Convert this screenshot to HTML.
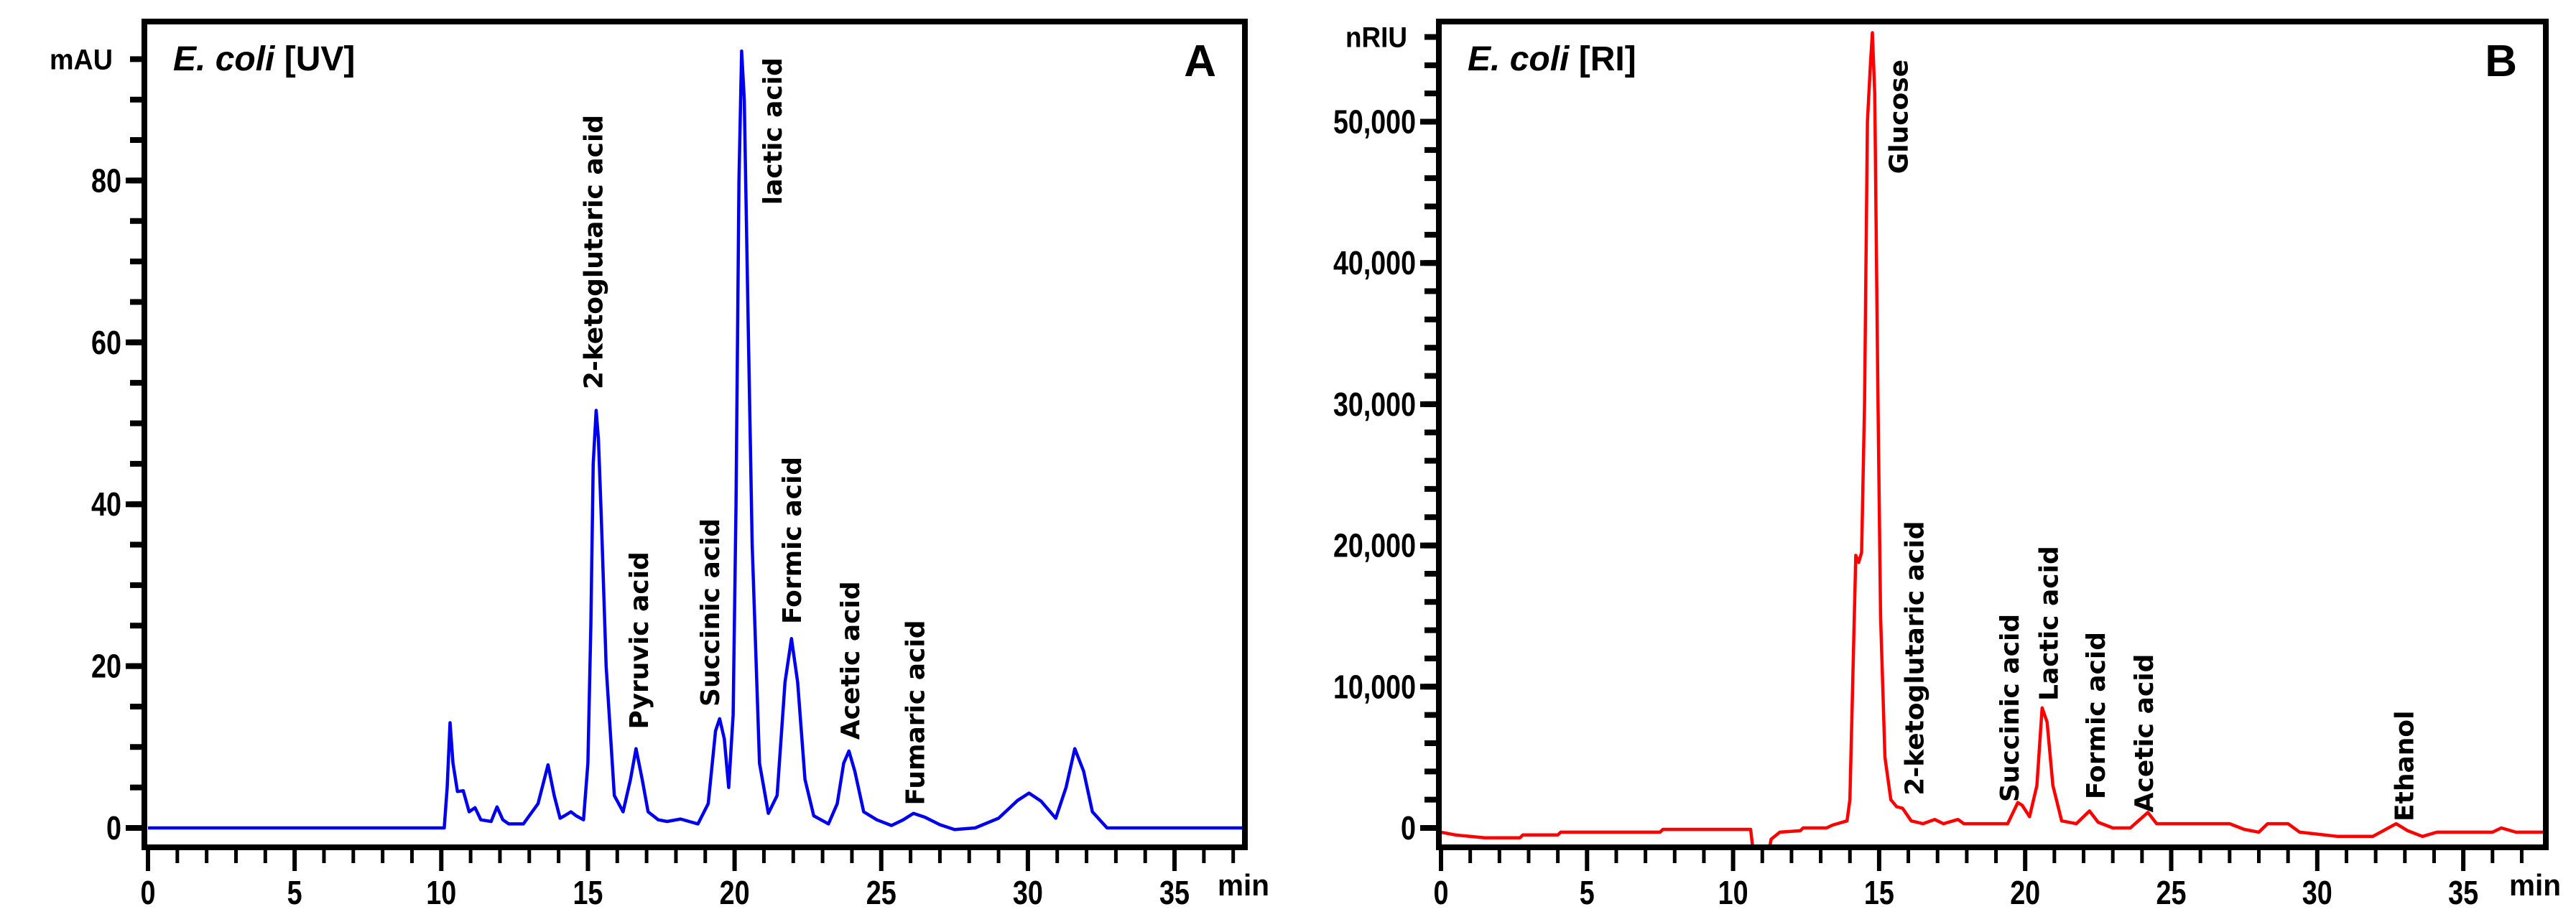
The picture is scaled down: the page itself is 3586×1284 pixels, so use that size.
<!DOCTYPE html>
<html><head><meta charset="utf-8"><style>
html,body{margin:0;padding:0;background:#fff;}
svg{display:block;}
text{font-family:"Liberation Sans","DejaVu Sans",sans-serif;}
.tick{font-weight:bold;font-size:46px;fill:#000;}
.lab{font-family:"DejaVu Sans","Liberation Sans",sans-serif;font-weight:bold;font-size:36px;fill:#000;}
</style></head><body>
<svg id="fig" width="3586" height="1284" viewBox="0 0 3586 1284" xmlns="http://www.w3.org/2000/svg"></svg>
<script>
// ---- Panel A (UV) data ----
const timesA = [0,10.1,10.2,10.3,10.4,10.55,10.75,10.95,11.15,11.35,11.7,11.9,12.1,12.3,12.8,13.3,13.64,13.85,14.05,14.2,14.42,14.6,14.85,15.0,15.1,15.18,15.28,15.36,15.46,15.62,15.9,16.2,16.45,16.64,16.85,17.05,17.4,17.7,18.16,18.45,18.75,19.1,19.35,19.49,19.65,19.8,19.95,20.05,20.15,20.24,20.33,20.45,20.6,20.85,21.15,21.45,21.72,21.94,22.15,22.4,22.7,23.2,23.5,23.72,23.9,24.1,24.4,24.85,25.35,25.75,26.1,26.5,27,27.5,28.2,29.0,29.65,30.04,30.45,30.95,31.3,31.6,31.9,32.2,32.7,38.3];
const valuesA = [0,0,5,13,8,4.5,4.6,2,2.5,1,0.8,2.6,1,0.5,0.5,3,7.8,4,1.2,1.5,2,1.5,1,8,25,45,51.6,48,38,20,4,2,6,9.8,6,2,1,0.8,1.1,0.8,0.5,3,12,13.5,11,5,14,40,80,96,90,65,35,8,1.8,4,18,23.4,18,6,1.5,0.5,3,8,9.5,7,2,1,0.3,1,1.8,1.3,0.4,-0.2,0,1.2,3.4,4.3,3.3,1.2,5,9.8,7,2,0,0];
const yTicksA = [0,20,40,60,80];
const yTickLabelsA = ["0","20","40","60","80"];
const peakNamesA = ["2-ketoglutaric acid","lactic acid","Pyruvic acid","Succinic acid","Formic acid","Acetic acid","Fumaric acid"];
const peakTimesA = [15.17,21.28,16.73,19.15,21.95,23.93,26.15];
const peakLabelBaseA = [54.2,77,12.2,15,25.2,10.9,2.8];
// ---- Panel B (RI) data ----
const timesB = [0,0.5,1.5,2.7,2.8,4,4.1,7.5,7.6,10.6,10.68,10.8,11.2,11.3,11.6,12.3,12.4,13.2,13.4,13.9,14.0,14.2,14.3,14.4,14.5,14.6,14.7,14.77,14.85,14.95,15.05,15.2,15.4,15.6,15.8,16.1,16.5,16.9,17.2,17.7,17.9,19.4,19.75,19.9,20.15,20.4,20.58,20.75,20.95,21.25,21.75,22.2,22.5,23,23.6,24.2,24.5,27,27.5,28,28.3,29,29.4,30.7,31.9,32.7,33.1,33.6,34.1,36,36.3,36.8,38.4];
const valuesB = [-300,-500,-700,-700,-500,-500,-300,-300,-100,-100,-1500,-2000,-2000,-800,-300,-200,0,0,200,500,2000,19300,18800,19500,30000,50000,54000,56300,52000,32000,15000,5000,2000,1500,1400,500,300,600,300,600,300,300,1800,1600,800,3000,8500,7500,3000,500,300,1200,400,0,0,1100,300,300,-100,-300,300,300,-300,-600,-600,300,-200,-600,-300,-300,0,-300,-300];
const yTicksB = [0,10000,20000,30000,40000,50000];
const yTickLabelsB = ["0","10,000","20,000","30,000","40,000","50,000"];
const peakNamesB = ["Glucose","2-ketoglutaric acid","Succinic acid","Lactic acid","Formic acid","Acetic acid","Ethanol"];
const peakTimesB = [15.65,16.2,19.45,20.8,22.4,24.05,32.97];
const peakLabelBaseB = [46300,2300,1830,9000,2030,1100,460];
const xTicks = [0,5,10,15,20,25,30,35];

const NS="http://www.w3.org/2000/svg";
const svg=document.getElementById('fig');
function mk(tag,attrs,parent){const e=document.createElementNS(NS,tag);for(const k in attrs)e.setAttribute(k,attrs[k]);(parent||svg).appendChild(e);return e;}
function tlen(s){let w=0;for(const c of s)w+=(c===','?10:21);return w;}

function panel(cfg){
  const g=mk('g',{});
  
  
  const X=t=>cfg.x0+t*cfg.px;
  const Y=v=>cfg.y0-v*cfg.py;
  const clipId=cfg.name+'-clip';
  const cp=mk('clipPath',{id:clipId},g);
  mk('rect',{x:cfg.L,y:cfg.T,width:cfg.R-cfg.L,height:cfg.B-cfg.T},cp);
  let d='';
  cfg.times.forEach((t,i)=>{d+=(i?'L':'M')+X(t).toFixed(1)+' '+Y(cfg.values[i]).toFixed(1)+' ';});
  const line=mk('path',{d:d,fill:'none',stroke:cfg.color,'stroke-width':4.5,'stroke-linejoin':'round','clip-path':'url(#'+clipId+')'},g);
  
  
  const fr=mk('rect',{x:cfg.L,y:cfg.T,width:cfg.R-cfg.L,height:cfg.B-cfg.T,fill:'none',stroke:'#000','stroke-width':8},g);
  
  
  const xa=mk('g',{},g);
  
  
  for(let t=0;X(t)<cfg.R-2;t++){
    const maj=t%5===0;
    mk('line',{x1:X(t),x2:X(t),y1:cfg.B,y2:cfg.B+(maj?33:22),stroke:'#000','stroke-width':maj?6:5},xa);
  }
  xTicks.forEach(t=>{
    const s=String(t);
    const tx=mk('text',{x:X(t),y:1259,'text-anchor':'middle',class:'tick',textLength:tlen(s),lengthAdjust:'spacingAndGlyphs'},xa);
    tx.textContent=s;
    
    
  });
  const mn=mk('text',{x:cfg.minX,y:1247,'font-size':42,'font-weight':'bold',textLength:72,lengthAdjust:'spacingAndGlyphs'},xa);
  mn.textContent='min';
  
  
  const ya=mk('g',{},g);
  
  
  for(let v=0;Y(v)>cfg.T+10;v+=cfg.minor){
    mk('line',{x1:cfg.L-20,x2:cfg.L,y1:Y(v),y2:Y(v),stroke:'#000','stroke-width':8},ya);
  }
  cfg.yTicks.forEach((v,i)=>{
    mk('line',{x1:cfg.L-26,x2:cfg.L,y1:Y(v),y2:Y(v),stroke:'#000','stroke-width':8},ya);
    const s=cfg.yLabels[i];
    const tx=mk('text',{x:cfg.L-32,y:Y(v)+16,'text-anchor':'end',class:'tick',textLength:tlen(s),lengthAdjust:'spacingAndGlyphs'},ya);
    tx.textContent=s;
    
    
  });
  const un=mk('text',{x:cfg.L-44,y:cfg.unitY+14,'text-anchor':'end','font-size':40,'font-weight':'bold',textLength:cfg.unitW,lengthAdjust:'spacingAndGlyphs'},ya);
  un.textContent=cfg.unit;
  
  
  const tt=mk('text',{x:cfg.L+40,y:cfg.T+68,'font-size':48,'font-weight':'bold'},g);
  
  
  const ti=mk('tspan',{'font-style':'italic'},tt);ti.textContent='E. coli ';
  const tn=mk('tspan',{},tt);tn.textContent=cfg.title;
  const pl=mk('text',{x:cfg.R-40,y:cfg.T+76,'text-anchor':'end','font-size':62,'font-weight':'bold'},g);
  pl.textContent=cfg.letter;
  
  
  cfg.names.forEach((n,i)=>{
    const x=X(cfg.ptimes[i])+13, y=Y(cfg.pbase[i]);
    const tx=mk('text',{x:x,y:y,class:'lab',transform:'rotate(-90 '+x+' '+y+')'},g);
    tx.textContent=n;
    
    
  });
}
panel({name:'panel-a-uv',L:201,R:1733,T:30,B:1180,x0:206,px:40.83,y0:1153,py:11.27,
  times:timesA,values:valuesA,color:'#0000ee',yTicks:yTicksA,yLabels:yTickLabelsA,minor:5,
  unit:'mAU',unitW:88,unitY:1153-95*11.27,title:'[UV]',letter:'A',minX:1695,
  names:peakNamesA,ptimes:peakTimesA,pbase:peakLabelBaseA});
panel({name:'panel-b-ri',L:2003,R:3544,T:30,B:1180,x0:2006,px:40.66,y0:1153,py:0.01967,
  times:timesB,values:valuesB,color:'#ff0000',yTicks:yTicksB,yLabels:yTickLabelsB,minor:2000,
  unit:'nRIU',unitW:86,unitY:1153-56000*0.01967,title:'[RI]',letter:'B',minX:3493,
  names:peakNamesB,ptimes:peakTimesB,pbase:peakLabelBaseB});
</script>
</body></html>
